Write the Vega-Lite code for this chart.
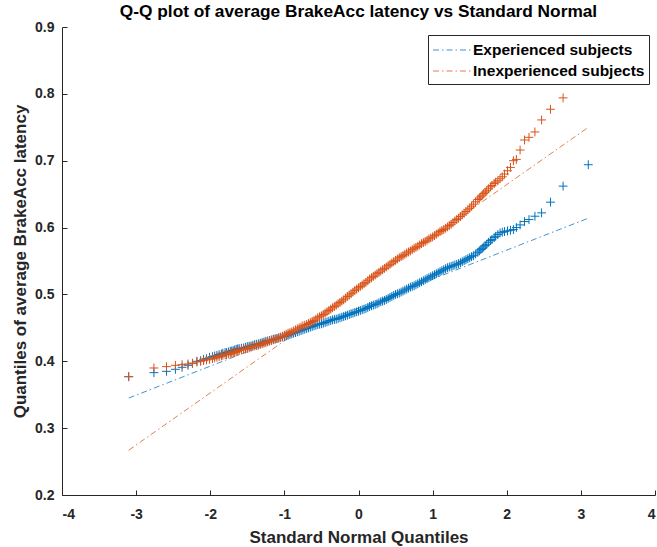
{
  "$schema": "https://vega.github.io/schema/vega-lite/v6.json",
  "autosize": "none",
  "width": 593,
  "height": 468,
  "padding": {"left": 62, "top": 27, "right": 2, "bottom": 52},
  "background": "white",
  "config": {
    "view": {"stroke": null},
    "font": "Liberation Sans",
    "axis": {
      "grid": false,
      "domainColor": "#262626",
      "tickColor": "#262626",
      "labelColor": "#262626",
      "titleColor": "#262626",
      "labelFont": "Liberation Sans",
      "titleFont": "Liberation Sans",
      "labelFontWeight": "bold",
      "titleFontWeight": "bold",
      "labelFontSize": 14,
      "titleFontSize": 17
    }
  },
  "title": {
    "text": "Q-Q plot of average BrakeAcc latency vs Standard Normal",
    "font": "Liberation Sans",
    "fontSize": 17.3,
    "fontWeight": "bold",
    "color": "#000000",
    "offset": 0
  },
  "datasets": {
    "ref": [
      {"g": "E", "x": -3.1, "y": 0.345}, {"g": "E", "x": 3.1, "y": 0.614},
      {"g": "I", "x": -3.1, "y": 0.267}, {"g": "I", "x": 3.1, "y": 0.75}
    ],
    "exp": [
      {"x": -3.10, "y": 0.377}, {"x": -2.76, "y": 0.383}, {"x": -2.59, "y": 0.385}, {"x": -2.47, "y": 0.388},
      {"x": -2.38, "y": 0.391}, {"x": -2.30, "y": 0.394}, {"x": -2.24, "y": 0.397}, {"x": -2.18, "y": 0.400},
      {"x": -2.13, "y": 0.401}, {"x": -2.09, "y": 0.403}, {"x": -2.05, "y": 0.404}, {"x": -2.01, "y": 0.406},
      {"x": -1.97, "y": 0.407}, {"x": -1.94, "y": 0.408}, {"x": -1.91, "y": 0.409}, {"x": -1.88, "y": 0.410},
      {"x": -1.85, "y": 0.411}, {"x": -1.83, "y": 0.412}, {"x": -1.80, "y": 0.413}, {"x": -1.78, "y": 0.413},
      {"x": -1.755, "y": 0.414}, {"x": -1.73, "y": 0.415}, {"x": -1.71, "y": 0.4155}, {"x": -1.69, "y": 0.416},
      {"x": -1.67, "y": 0.417}, {"x": -1.65, "y": 0.418}, {"x": -1.63, "y": 0.4185}, {"x": -1.61, "y": 0.419},
      {"x": -1.58, "y": 0.4195},
      {"x": -1.55, "y": 0.420}, {"x": -1.525, "y": 0.421}, {"x": -1.50, "y": 0.422}, {"x": -1.475, "y": 0.4225},
      {"x": -1.45, "y": 0.423}, {"x": -1.425, "y": 0.424}, {"x": -1.40, "y": 0.425}, {"x": -1.375, "y": 0.4255},
      {"x": -1.35, "y": 0.426}, {"x": -1.325, "y": 0.427}, {"x": -1.30, "y": 0.428}, {"x": -1.275, "y": 0.429},
      {"x": -1.25, "y": 0.430}, {"x": -1.225, "y": 0.4305}, {"x": -1.20, "y": 0.431}, {"x": -1.175, "y": 0.432},
      {"x": -1.15, "y": 0.433}, {"x": -1.125, "y": 0.4335}, {"x": -1.10, "y": 0.434}, {"x": -1.075, "y": 0.435},
      {"x": -1.05, "y": 0.436}, {"x": -1.025, "y": 0.4365}, {"x": -1.00, "y": 0.437}, {"x": -0.975, "y": 0.438},
      {"x": -0.95, "y": 0.439}, {"x": -0.925, "y": 0.440}, {"x": -0.90, "y": 0.441}, {"x": -0.875, "y": 0.442},
      {"x": -0.85, "y": 0.443}, {"x": -0.825, "y": 0.444}, {"x": -0.80, "y": 0.445}, {"x": -0.775, "y": 0.446},
      {"x": -0.75, "y": 0.447}, {"x": -0.725, "y": 0.448}, {"x": -0.70, "y": 0.449}, {"x": -0.675, "y": 0.450},
      {"x": -0.65, "y": 0.451}, {"x": -0.625, "y": 0.452}, {"x": -0.60, "y": 0.453}, {"x": -0.575, "y": 0.454},
      {"x": -0.55, "y": 0.455}, {"x": -0.525, "y": 0.4555}, {"x": -0.50, "y": 0.456}, {"x": -0.475, "y": 0.457},
      {"x": -0.45, "y": 0.458}, {"x": -0.425, "y": 0.459}, {"x": -0.40, "y": 0.460}, {"x": -0.375, "y": 0.461},
      {"x": -0.35, "y": 0.462}, {"x": -0.325, "y": 0.4625}, {"x": -0.30, "y": 0.463}, {"x": -0.275, "y": 0.464},
      {"x": -0.25, "y": 0.465}, {"x": -0.225, "y": 0.466}, {"x": -0.20, "y": 0.467}, {"x": -0.175, "y": 0.468},
      {"x": -0.15, "y": 0.469}, {"x": -0.125, "y": 0.470}, {"x": -0.10, "y": 0.471}, {"x": -0.075, "y": 0.472},
      {"x": -0.05, "y": 0.473}, {"x": -0.025, "y": 0.474}, {"x": 0.00, "y": 0.475}, {"x": 0.025, "y": 0.476},
      {"x": 0.05, "y": 0.477}, {"x": 0.075, "y": 0.478}, {"x": 0.10, "y": 0.479}, {"x": 0.125, "y": 0.4805},
      {"x": 0.15, "y": 0.482}, {"x": 0.175, "y": 0.483}, {"x": 0.20, "y": 0.484}, {"x": 0.225, "y": 0.485},
      {"x": 0.25, "y": 0.486}, {"x": 0.275, "y": 0.4875}, {"x": 0.30, "y": 0.489}, {"x": 0.325, "y": 0.490},
      {"x": 0.35, "y": 0.491}, {"x": 0.375, "y": 0.4925}, {"x": 0.40, "y": 0.494}, {"x": 0.425, "y": 0.4955},
      {"x": 0.45, "y": 0.497}, {"x": 0.475, "y": 0.4985}, {"x": 0.50, "y": 0.500}, {"x": 0.525, "y": 0.501},
      {"x": 0.55, "y": 0.502}, {"x": 0.575, "y": 0.5035}, {"x": 0.60, "y": 0.505}, {"x": 0.625, "y": 0.5065},
      {"x": 0.65, "y": 0.508}, {"x": 0.675, "y": 0.5095}, {"x": 0.70, "y": 0.511}, {"x": 0.725, "y": 0.512},
      {"x": 0.75, "y": 0.513}, {"x": 0.775, "y": 0.5145}, {"x": 0.80, "y": 0.516}, {"x": 0.825, "y": 0.5175},
      {"x": 0.85, "y": 0.519}, {"x": 0.875, "y": 0.5205}, {"x": 0.90, "y": 0.522}, {"x": 0.925, "y": 0.5235},
      {"x": 0.95, "y": 0.525}, {"x": 0.975, "y": 0.5265}, {"x": 1.00, "y": 0.528}, {"x": 1.025, "y": 0.5295},
      {"x": 1.05, "y": 0.531}, {"x": 1.075, "y": 0.5325}, {"x": 1.10, "y": 0.534}, {"x": 1.125, "y": 0.5355},
      {"x": 1.15, "y": 0.537}, {"x": 1.175, "y": 0.5385}, {"x": 1.20, "y": 0.540}, {"x": 1.225, "y": 0.541},
      {"x": 1.25, "y": 0.542}, {"x": 1.275, "y": 0.543}, {"x": 1.30, "y": 0.544}, {"x": 1.325, "y": 0.545},
      {"x": 1.35, "y": 0.546}, {"x": 1.375, "y": 0.5475}, {"x": 1.40, "y": 0.549}, {"x": 1.425, "y": 0.5505},
      {"x": 1.45, "y": 0.552}, {"x": 1.475, "y": 0.5535}, {"x": 1.50, "y": 0.555}, {"x": 1.525, "y": 0.5565},
      {"x": 1.55, "y": 0.558},
      {"x": 1.58, "y": 0.5605}, {"x": 1.61, "y": 0.563}, {"x": 1.63, "y": 0.565}, {"x": 1.65, "y": 0.567},
      {"x": 1.67, "y": 0.569}, {"x": 1.69, "y": 0.571}, {"x": 1.71, "y": 0.573}, {"x": 1.73, "y": 0.575},
      {"x": 1.755, "y": 0.578}, {"x": 1.78, "y": 0.5805},
      {"x": 1.80, "y": 0.582}, {"x": 1.83, "y": 0.585}, {"x": 1.85, "y": 0.587}, {"x": 1.88, "y": 0.5895},
      {"x": 1.91, "y": 0.592}, {"x": 1.94, "y": 0.593}, {"x": 1.97, "y": 0.594}, {"x": 2.01, "y": 0.595},
      {"x": 2.05, "y": 0.596}, {"x": 2.09, "y": 0.597}, {"x": 2.13, "y": 0.600}, {"x": 2.18, "y": 0.604},
      {"x": 2.24, "y": 0.609}, {"x": 2.30, "y": 0.612}, {"x": 2.38, "y": 0.617}, {"x": 2.47, "y": 0.622},
      {"x": 2.59, "y": 0.638}, {"x": 2.76, "y": 0.662}, {"x": 3.10, "y": 0.694}
    ],
    "inexp": [
      {"x": -3.10, "y": 0.377}, {"x": -2.76, "y": 0.390}, {"x": -2.59, "y": 0.392}, {"x": -2.47, "y": 0.394},
      {"x": -2.38, "y": 0.395}, {"x": -2.30, "y": 0.396}, {"x": -2.24, "y": 0.397}, {"x": -2.18, "y": 0.399},
      {"x": -2.13, "y": 0.400}, {"x": -2.09, "y": 0.401}, {"x": -2.05, "y": 0.402}, {"x": -2.01, "y": 0.403},
      {"x": -1.97, "y": 0.404}, {"x": -1.94, "y": 0.405}, {"x": -1.91, "y": 0.406}, {"x": -1.88, "y": 0.407},
      {"x": -1.85, "y": 0.408}, {"x": -1.83, "y": 0.409}, {"x": -1.80, "y": 0.410}, {"x": -1.78, "y": 0.410},
      {"x": -1.755, "y": 0.411}, {"x": -1.73, "y": 0.412}, {"x": -1.71, "y": 0.4125}, {"x": -1.69, "y": 0.413},
      {"x": -1.67, "y": 0.4135}, {"x": -1.65, "y": 0.414}, {"x": -1.63, "y": 0.415}, {"x": -1.61, "y": 0.416},
      {"x": -1.58, "y": 0.417},
      {"x": -1.55, "y": 0.418}, {"x": -1.525, "y": 0.4185}, {"x": -1.50, "y": 0.419}, {"x": -1.475, "y": 0.420},
      {"x": -1.45, "y": 0.421}, {"x": -1.425, "y": 0.422}, {"x": -1.40, "y": 0.423}, {"x": -1.375, "y": 0.4235},
      {"x": -1.35, "y": 0.424}, {"x": -1.325, "y": 0.425}, {"x": -1.30, "y": 0.426}, {"x": -1.275, "y": 0.427},
      {"x": -1.25, "y": 0.428}, {"x": -1.225, "y": 0.429}, {"x": -1.20, "y": 0.430}, {"x": -1.175, "y": 0.431},
      {"x": -1.15, "y": 0.432}, {"x": -1.125, "y": 0.433}, {"x": -1.10, "y": 0.434}, {"x": -1.075, "y": 0.435},
      {"x": -1.05, "y": 0.436}, {"x": -1.025, "y": 0.4375}, {"x": -1.00, "y": 0.439}, {"x": -0.975, "y": 0.4405},
      {"x": -0.95, "y": 0.442}, {"x": -0.925, "y": 0.443}, {"x": -0.90, "y": 0.444}, {"x": -0.875, "y": 0.4455},
      {"x": -0.85, "y": 0.447}, {"x": -0.825, "y": 0.4485}, {"x": -0.80, "y": 0.450}, {"x": -0.775, "y": 0.4515},
      {"x": -0.75, "y": 0.453}, {"x": -0.725, "y": 0.454}, {"x": -0.70, "y": 0.455}, {"x": -0.675, "y": 0.4565},
      {"x": -0.65, "y": 0.458}, {"x": -0.625, "y": 0.4595}, {"x": -0.60, "y": 0.461}, {"x": -0.575, "y": 0.463},
      {"x": -0.55, "y": 0.465}, {"x": -0.525, "y": 0.4665}, {"x": -0.50, "y": 0.468}, {"x": -0.475, "y": 0.470},
      {"x": -0.45, "y": 0.472}, {"x": -0.425, "y": 0.474}, {"x": -0.40, "y": 0.476}, {"x": -0.375, "y": 0.478},
      {"x": -0.35, "y": 0.480}, {"x": -0.325, "y": 0.482}, {"x": -0.30, "y": 0.484}, {"x": -0.275, "y": 0.486},
      {"x": -0.25, "y": 0.488}, {"x": -0.225, "y": 0.490}, {"x": -0.20, "y": 0.492}, {"x": -0.175, "y": 0.4945},
      {"x": -0.15, "y": 0.497}, {"x": -0.125, "y": 0.499}, {"x": -0.10, "y": 0.501}, {"x": -0.075, "y": 0.5035},
      {"x": -0.05, "y": 0.506}, {"x": -0.025, "y": 0.508}, {"x": 0.00, "y": 0.510}, {"x": 0.025, "y": 0.512},
      {"x": 0.05, "y": 0.514}, {"x": 0.075, "y": 0.516}, {"x": 0.10, "y": 0.518}, {"x": 0.125, "y": 0.5205},
      {"x": 0.15, "y": 0.523}, {"x": 0.175, "y": 0.525}, {"x": 0.20, "y": 0.527}, {"x": 0.225, "y": 0.529},
      {"x": 0.25, "y": 0.531}, {"x": 0.275, "y": 0.533}, {"x": 0.30, "y": 0.535}, {"x": 0.325, "y": 0.537},
      {"x": 0.35, "y": 0.539}, {"x": 0.375, "y": 0.541}, {"x": 0.40, "y": 0.543}, {"x": 0.425, "y": 0.545},
      {"x": 0.45, "y": 0.547}, {"x": 0.475, "y": 0.549}, {"x": 0.50, "y": 0.551}, {"x": 0.525, "y": 0.553},
      {"x": 0.55, "y": 0.555}, {"x": 0.575, "y": 0.5565}, {"x": 0.60, "y": 0.558}, {"x": 0.625, "y": 0.560},
      {"x": 0.65, "y": 0.562}, {"x": 0.675, "y": 0.5635}, {"x": 0.70, "y": 0.565}, {"x": 0.725, "y": 0.567},
      {"x": 0.75, "y": 0.569}, {"x": 0.775, "y": 0.5705}, {"x": 0.80, "y": 0.572}, {"x": 0.825, "y": 0.574},
      {"x": 0.85, "y": 0.576}, {"x": 0.875, "y": 0.5775}, {"x": 0.90, "y": 0.579}, {"x": 0.925, "y": 0.581},
      {"x": 0.95, "y": 0.583}, {"x": 0.975, "y": 0.5845}, {"x": 1.00, "y": 0.586}, {"x": 1.025, "y": 0.588},
      {"x": 1.05, "y": 0.590}, {"x": 1.075, "y": 0.592}, {"x": 1.10, "y": 0.594}, {"x": 1.125, "y": 0.5955},
      {"x": 1.15, "y": 0.597}, {"x": 1.175, "y": 0.599}, {"x": 1.20, "y": 0.601}, {"x": 1.225, "y": 0.603},
      {"x": 1.25, "y": 0.605}, {"x": 1.275, "y": 0.6075}, {"x": 1.30, "y": 0.610}, {"x": 1.325, "y": 0.612},
      {"x": 1.35, "y": 0.614}, {"x": 1.375, "y": 0.6165}, {"x": 1.40, "y": 0.619}, {"x": 1.425, "y": 0.6215},
      {"x": 1.45, "y": 0.624}, {"x": 1.475, "y": 0.6265}, {"x": 1.50, "y": 0.629}, {"x": 1.525, "y": 0.632},
      {"x": 1.55, "y": 0.635},
      {"x": 1.58, "y": 0.6385}, {"x": 1.61, "y": 0.642}, {"x": 1.63, "y": 0.644}, {"x": 1.65, "y": 0.646},
      {"x": 1.67, "y": 0.6485}, {"x": 1.69, "y": 0.651}, {"x": 1.71, "y": 0.653}, {"x": 1.73, "y": 0.655},
      {"x": 1.755, "y": 0.658}, {"x": 1.78, "y": 0.661},
      {"x": 1.80, "y": 0.663}, {"x": 1.83, "y": 0.666}, {"x": 1.85, "y": 0.668}, {"x": 1.88, "y": 0.670},
      {"x": 1.91, "y": 0.673}, {"x": 1.94, "y": 0.676}, {"x": 1.97, "y": 0.680}, {"x": 2.01, "y": 0.685},
      {"x": 2.05, "y": 0.690}, {"x": 2.09, "y": 0.700}, {"x": 2.13, "y": 0.702}, {"x": 2.18, "y": 0.716},
      {"x": 2.24, "y": 0.731}, {"x": 2.30, "y": 0.735}, {"x": 2.38, "y": 0.743}, {"x": 2.47, "y": 0.761},
      {"x": 2.59, "y": 0.777}, {"x": 2.76, "y": 0.794}, {"x": 3.10, "y": 0.850}
    ]
  },
  "layer": [
    {
      "data": {"name": "ref"},
      "mark": {"type": "line", "strokeWidth": 1, "strokeDash": [6, 3, 1.5, 3], "opacity": 0.75},
      "encoding": {
        "x": {
          "field": "x", "type": "quantitative",
          "scale": {"domain": [-4, 4], "nice": false, "zero": false},
          "axis": {
            "values": [-4, -3, -2, -1, 0, 1, 2, 3, 4],
            "labelExpr": "toString(datum.value)",
            "title": "Standard Normal Quantiles",
            "tickSize": -5,
            "labelPadding": 17,
            "titlePadding": 8
          }
        },
        "y": {
          "field": "y", "type": "quantitative",
          "scale": {"domain": [0.2, 0.9], "nice": false, "zero": false},
          "axis": {
            "values": [0.2, 0.3, 0.4, 0.5, 0.6, 0.7, 0.8, 0.9],
            "format": ".1f",
            "title": "Quantiles of average BrakeAcc latency",
            "tickSize": -5,
            "labelPadding": 13,
            "titlePadding": 5
          }
        },
        "detail": {"field": "g"},
        "stroke": {
          "field": "g", "type": "nominal",
          "scale": {"domain": ["E", "I"], "range": ["#0072BD", "#D95319"]},
          "legend": {
            "orient": "none",
            "legendX": 366,
            "legendY": 8,
            "title": null,
            "symbolType": "M-2,0H2",
            "symbolSize": 400,
            "symbolOffset": 10,
            "symbolStrokeWidth": 1.2,
            "symbolDash": [6, 3, 1.5, 3],
            "rowPadding": 1,
            "labelOffset": 9,
            "labelLimit": 0,
            "labelFont": "Liberation Sans",
            "labelFontWeight": "bold",
            "labelFontSize": 15.5,
            "labelColor": "#000000",
            "strokeColor": "#262626",
            "fillColor": "white",
            "padding": 4,
            "labelExpr": "datum.label == 'E' ? 'Experienced subjects' : 'Inexperienced subjects'",
            "encode": {
              "symbols": {
                "update": {
                  "stroke": [{"test": "datum.value === 'E'", "value": "#5A9BD5"}, {"value": "#F0955F"}],
                  "fill": {"value": "transparent"},
                  "opacity": {"value": 1}
                }
              }
            }
          }
        }
      }
    },
    {
      "data": {"name": "exp"},
      "mark": {"type": "point", "shape": "M-1,0H1M0,-1V1", "filled": false, "size": 78, "strokeWidth": 1, "color": "#0072BD", "opacity": 1},
      "encoding": {
        "x": {"field": "x", "type": "quantitative"},
        "y": {"field": "y", "type": "quantitative"}
      }
    },
    {
      "data": {"name": "inexp"},
      "mark": {"type": "point", "shape": "M-1,0H1M0,-1V1", "filled": false, "size": 78, "strokeWidth": 1, "color": "#D95319", "opacity": 1},
      "encoding": {
        "x": {"field": "x", "type": "quantitative"},
        "y": {"field": "y", "type": "quantitative"}
      }
    }
  ]
}
